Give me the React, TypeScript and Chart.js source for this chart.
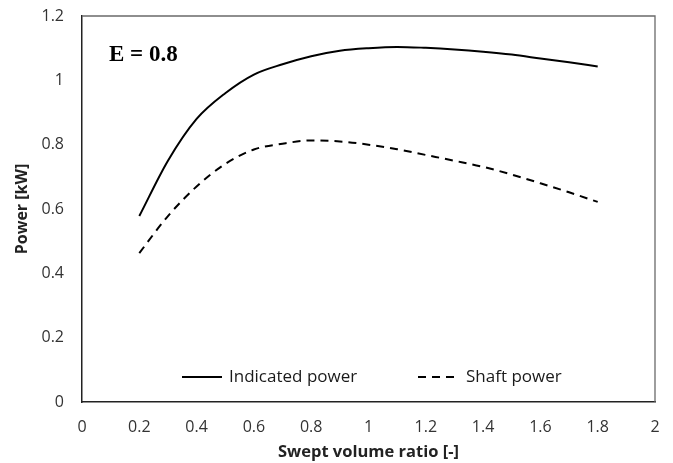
import React, { useEffect, useRef } from "react";
import { Chart, registerables } from "chart.js";
Chart.register(...registerables);

const sweptRatio = [0.2, 0.3, 0.4, 0.5, 0.6, 0.7, 0.8, 0.9, 1.0, 1.1, 1.2, 1.3, 1.4, 1.5, 1.6, 1.7, 1.8];
const indicatedPower = [0.578, 0.75, 0.88, 0.96, 1.018, 1.05, 1.075, 1.092, 1.1, 1.104, 1.101, 1.096, 1.089, 1.08, 1.068, 1.056, 1.043];
const shaftPower = [0.463, 0.578, 0.67, 0.74, 0.785, 0.803, 0.813, 0.81, 0.8, 0.786, 0.768, 0.75, 0.731, 0.707, 0.68, 0.652, 0.622];
const yTicks = [0, 0.2, 0.4, 0.6, 0.8, 1, 1.2];
const xTicks = [0, 0.2, 0.4, 0.6, 0.8, 1, 1.2, 1.4, 1.6, 1.8, 2];
const seriesNames = ["Indicated power", "Shaft power"];
const annotation = "E = 0.8";

const FONT = "'Open Sans', sans-serif";

const decorPlugin = {
  id: "decor",
  afterDraw(chart: any) {
    const ctx = chart.ctx;
    const a = chart.chartArea;
    ctx.save();
    // top and right frame
    ctx.strokeStyle = "#6a6a6a";
    ctx.lineWidth = 1.3;
    ctx.beginPath();
    ctx.moveTo(a.left, a.top);
    ctx.lineTo(a.right, a.top);
    ctx.lineTo(a.right, a.bottom);
    ctx.stroke();
    // annotation
    ctx.fillStyle = "#000";
    ctx.font = "bold 23px 'Liberation Serif', 'DejaVu Serif', serif";
    ctx.textBaseline = "middle";
    ctx.textAlign = "left";
    ctx.fillText(annotation, a.left + 27, a.top + 39);
    // legend
    const ly = a.bottom - 25;
    ctx.font = "17px " + FONT;
    ctx.lineWidth = 2;
    ctx.strokeStyle = "#000";
    const items = [
      { x: a.left + 100, w: 40, dash: [] as number[] },
      { x: a.left + 336, w: 37, dash: [8, 6] },
    ];
    items.forEach((it, i) => {
      ctx.setLineDash(it.dash);
      ctx.beginPath();
      ctx.moveTo(it.x, ly);
      ctx.lineTo(it.x + it.w, ly);
      ctx.stroke();
      ctx.setLineDash([]);
      ctx.fillStyle = "#1a1a1a";
      ctx.fillText(seriesNames[i], it.x + (i === 0 ? 47 : 48), ly);
    });
    ctx.restore();
  },
};

export default function App() {
  const ref = useRef<HTMLCanvasElement>(null);
  useEffect(() => {
    if (!ref.current) return;
    const chart = new Chart(ref.current, {
      type: "line",
      data: {
        datasets: [
          {
            label: seriesNames[0],
            data: sweptRatio.map((x, i) => ({ x, y: indicatedPower[i] })),
            borderColor: "#000",
            borderWidth: 2,
            pointRadius: 0,
            tension: 0.4,
            cubicInterpolationMode: "monotone",
          },
          {
            label: seriesNames[1],
            data: sweptRatio.map((x, i) => ({ x, y: shaftPower[i] })),
            borderColor: "#000",
            borderWidth: 2,
            borderDash: [8, 6],
            pointRadius: 0,
            tension: 0.4,
            cubicInterpolationMode: "monotone",
          },
        ],
      },
      options: {
        animation: false,
        responsive: true,
        maintainAspectRatio: false,
        layout: { padding: { top: 16, right: 18, left: 0, bottom: 0 } },
        plugins: { legend: { display: false }, tooltip: { enabled: false } },
        scales: {
          x: {
            type: "linear",
            min: 0,
            max: 2,
            afterBuildTicks: (s: any) => { s.ticks = xTicks.map((v) => ({ value: v })); },
            afterFit: (s: any) => { s.height = 61; s.paddingLeft = 0; s.paddingRight = 0; },
            grid: { display: false, drawTicks: true, tickLength: 5, tickColor: "#333", tickWidth: 1.5 },
            border: { display: true, color: "#222", width: 1.5 },
            ticks: {
              color: "#333",
              font: { family: FONT, size: 16 },
              padding: 11,
              maxRotation: 0,
              callback: (v: any) => String(Number(Number(v).toFixed(1))),
            },
            title: {
              display: true,
              text: "Swept volume ratio [-]",
              color: "#222",
              font: { family: FONT, size: 16.5, weight: "bold" },
              padding: { top: 2, bottom: 1 },
            },
          },
          y: {
            type: "linear",
            min: 0,
            max: 1.2,
            afterBuildTicks: (s: any) => { s.ticks = yTicks.map((v) => ({ value: v })); },
            afterFit: (s: any) => { s.width = 82; s.paddingTop = 0; s.paddingBottom = 0; },
            grid: { display: false, drawTicks: true, tickLength: 5, tickColor: "#333", tickWidth: 1.5 },
            border: { display: true, color: "#222", width: 1.5 },
            ticks: {
              color: "#333",
              font: { family: FONT, size: 16 },
              padding: 13,
              callback: (v: any) => String(Number(Number(v).toFixed(1))),
            },
            title: {
              display: true,
              text: "Power [kW]",
              color: "#222",
              font: { family: FONT, size: 16, weight: "bold" },
              padding: { top: 13, bottom: 6 },
            },
          },
        },
      },
      plugins: [decorPlugin],
    } as any);
    return () => chart.destroy();
  }, []);
  return (
    <div style={{ position: "absolute", left: 0, top: 0, width: 673, height: 463, background: "#fff" }}>
      <canvas ref={ref} />
    </div>
  );
}
